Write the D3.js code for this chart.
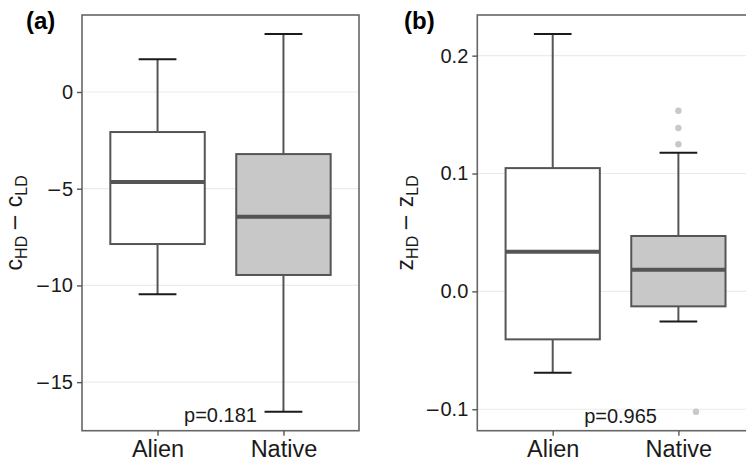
<!DOCTYPE html>
<html>
<head>
<meta charset="utf-8">
<script src="https://cdn.jsdelivr.net/npm/d3@7"></script>
<style>
  body { margin: 0; background: #fff; }
  text { font-family: "Liberation Sans", Arial, sans-serif; }
</style>
</head>
<body>
<div id="chart"></div>
<script>
// groups and fills
var groups = ["Alien", "Native"];
var fills = ["#ffffff", "#c8c8c8"];

// panel (a): c_HD - c_LD
var cLow = [-10.46, -16.53];
var cQ1 = [-7.86, -9.46];
var cMed = [-4.65, -6.45];
var cQ3 = [-2.07, -3.21];
var cHigh = [1.69, 3.0];
var cTicks = [-15, -10, -5, 0];
var cOutliers = [];

// panel (b): z_HD - z_LD
var zLow = [-0.069, -0.0255];
var zQ1 = [-0.0407, -0.0127];
var zMed = [0.0337, 0.0184];
var zQ3 = [0.1046, 0.047];
var zHigh = [0.2184, 0.1176];
var zTicks = [-0.1, 0.0, 0.1, 0.2];
// outliers of the Native group, with small horizontal jitter (category units)
var zOutliers = [0.1533, 0.1386, 0.1248, -0.1021];
var zOutJitter = [0, 0, 0, 0.14];

var pLabels = ["p=0.181", "p=0.965"];
var pLabelY = [-16.7, -0.1054];
var pLabelX = [1.5, 1.54];

var svgWidth = 746, svgHeight = 467;

var svg = d3.select("#chart")
  .append("svg")
  .attr("width", svgWidth)
  .attr("height", svgHeight);

// long minus sign like the R device draws
function addMinus(sel) {
  sel.append("tspan")
    .attr("font-family", "DejaVu Sans")
    .attr("font-size", "0.92em")
    .text("\u2212");
}

function drawPanel(opt) {
  var g = svg.append("g");
  var top = 15, bottom = 430.7;

  var x = d3.scalePoint()
    .domain(groups)
    .range([opt.left, opt.right])
    .padding(0.6);
  var step = x.step();
  var boxW = step * 0.75;
  var capW = step * 0.3;

  var y = d3.scaleLinear()
    .domain(opt.domain)
    .range([bottom, top]);

  // grid lines
  g.selectAll("line.grid")
    .data(opt.ticks)
    .enter()
    .append("line")
    .attr("x1", opt.left)
    .attr("x2", opt.right)
    .attr("y1", function(d) { return y(d); })
    .attr("y2", function(d) { return y(d); })
    .attr("stroke", "#ebebeb")
    .attr("stroke-width", 1.2);

  var rows = groups.map(function(gr, i) {
    return {g: gr, low: opt.low[i], q1: opt.q1[i], med: opt.med[i], q3: opt.q3[i], high: opt.high[i], fill: fills[i]};
  });

  // whiskers
  g.selectAll("line.wlo")
    .data(rows)
    .enter()
    .append("line")
    .attr("x1", function(d) { return x(d.g); })
    .attr("x2", function(d) { return x(d.g); })
    .attr("y1", function(d) { return y(d.low); })
    .attr("y2", function(d) { return y(d.q1); })
    .attr("stroke", "#555")
    .attr("stroke-width", 2);
  g.selectAll("line.whi")
    .data(rows)
    .enter()
    .append("line")
    .attr("x1", function(d) { return x(d.g); })
    .attr("x2", function(d) { return x(d.g); })
    .attr("y1", function(d) { return y(d.high); })
    .attr("y2", function(d) { return y(d.q3); })
    .attr("stroke", "#555")
    .attr("stroke-width", 2);

  // caps
  ["low", "high"].forEach(function(k) {
    g.selectAll("line.cap" + k)
      .data(rows)
      .enter()
      .append("line")
      .attr("x1", function(d) { return x(d.g) - capW / 2; })
      .attr("x2", function(d) { return x(d.g) + capW / 2; })
      .attr("y1", function(d) { return y(d[k]); })
      .attr("y2", function(d) { return y(d[k]); })
      .attr("stroke", "#1a1a1a")
      .attr("stroke-width", 2);
  });

  // boxes
  g.selectAll("rect.box")
    .data(rows)
    .enter()
    .append("rect")
    .attr("x", function(d) { return x(d.g) - boxW / 2; })
    .attr("width", boxW)
    .attr("y", function(d) { return y(d.q3); })
    .attr("height", function(d) { return y(d.q1) - y(d.q3); })
    .attr("fill", function(d) { return d.fill; })
    .attr("stroke", "#555")
    .attr("stroke-width", 2);

  // medians
  g.selectAll("line.med")
    .data(rows)
    .enter()
    .append("line")
    .attr("x1", function(d) { return x(d.g) - boxW / 2; })
    .attr("x2", function(d) { return x(d.g) + boxW / 2; })
    .attr("y1", function(d) { return y(d.med); })
    .attr("y2", function(d) { return y(d.med); })
    .attr("stroke", "#555")
    .attr("stroke-width", 4);

  // outliers (Native)
  g.selectAll("circle.out")
    .data(opt.outliers)
    .enter()
    .append("circle")
    .attr("cx", function(d, i) { return x("Native") + opt.jitter[i] * step; })
    .attr("cy", function(d) { return y(d); })
    .attr("r", 3.2)
    .attr("fill", "#c8c8c8");

  // p value
  var pl = d3.scaleLinear().domain([0.4, 2.6]).range([opt.left, opt.right]);
  g.append("text")
    .attr("x", pl(opt.pX))
    .attr("y", y(opt.pY))
    .attr("dy", "0.35em")
    .attr("text-anchor", "middle")
    .attr("font-size", "20px")
    .attr("fill", "#1a1a1a")
    .text(opt.pText);

  // panel border
  g.append("rect")
    .attr("x", opt.left)
    .attr("y", top)
    .attr("width", opt.right - opt.left)
    .attr("height", bottom - top)
    .attr("fill", "none")
    .attr("stroke", "#666")
    .attr("stroke-width", 1.6);

  // axes
  var yAxis = g.append("g")
    .attr("transform", "translate(" + opt.left + ",0)")
    .call(d3.axisLeft(y).tickValues(opt.ticks).tickFormat(opt.fmt).tickSize(5).tickPadding(4));
  yAxis.select(".domain").remove();
  yAxis.selectAll(".tick line").attr("stroke", "#555").attr("stroke-width", 1.4);
  yAxis.selectAll(".tick text").attr("font-size", "20px").attr("fill", "#1a1a1a")
    .attr("font-family", "Liberation Sans, Arial, sans-serif")
    .each(function(d) {
      if (d < 0) {
        var el = d3.select(this);
        var txt = opt.fmt(Math.abs(d));
        el.text("");
        addMinus(el);
        el.append("tspan").text(txt);
      }
    });

  var xAxis = g.append("g")
    .attr("transform", "translate(0," + bottom + ")")
    .call(d3.axisBottom(x).tickSize(5).tickPadding(5));
  xAxis.select(".domain").remove();
  xAxis.selectAll(".tick line").attr("stroke", "#555").attr("stroke-width", 1.4);
  xAxis.selectAll(".tick text").attr("font-size", "23.5px").attr("fill", "#1a1a1a")
    .attr("font-family", "Liberation Sans, Arial, sans-serif");

  // y title with subscripts
  var t = g.append("text")
    .attr("transform", "translate(" + opt.titleX + "," + ((top + bottom) / 2) + ") rotate(-90)")
    .attr("text-anchor", "middle")
    .attr("font-size", "23px")
    .attr("fill", "#1a1a1a");
  t.append("tspan").text(opt.letter);
  t.append("tspan").attr("font-size", "16px").attr("dy", 5).text("HD ");
  var m = t.append("tspan").attr("dy", -5);
  addMinus(m);
  t.append("tspan").text(" " + opt.letter);
  t.append("tspan").attr("font-size", "16px").attr("dy", 5).text("LD");

  // panel tag
  g.append("text")
    .attr("x", opt.tagX)
    .attr("y", 29)
    .attr("font-size", "24px")
    .attr("font-weight", "bold")
    .attr("fill", "#000")
    .text(opt.tag);
}

drawPanel({
  left: 82, right: 359, domain: [-17.51, 3.98], ticks: cTicks,
  fmt: d3.format("d"),
  low: cLow, q1: cQ1, med: cMed, q3: cQ3, high: cHigh,
  outliers: cOutliers, jitter: [],
  pText: pLabels[0], pY: pLabelY[0], pX: pLabelX[0],
  letter: "c", titleX: 22, tag: "(a)", tagX: 26
});

drawPanel({
  left: 477.3, right: 753.8, domain: [-0.1182, 0.2345], ticks: zTicks,
  fmt: d3.format(".1f"),
  low: zLow, q1: zQ1, med: zMed, q3: zQ3, high: zHigh,
  outliers: zOutliers, jitter: zOutJitter,
  pText: pLabels[1], pY: pLabelY[1], pX: pLabelX[1],
  letter: "z", titleX: 413, tag: "(b)", tagX: 404
});
</script>
</body>
</html>
